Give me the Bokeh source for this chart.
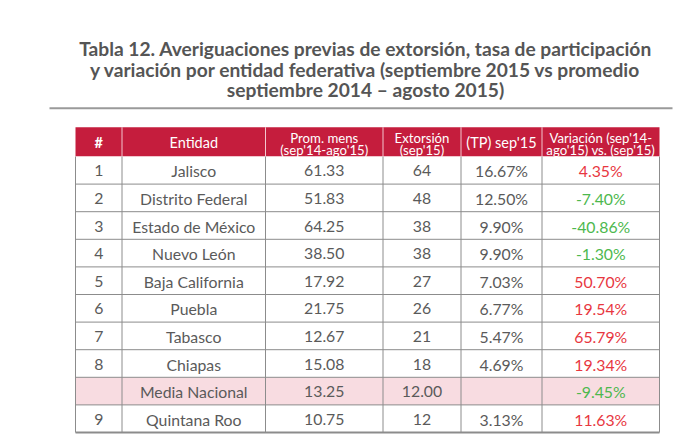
from bokeh.plotting import figure
from bokeh.models import Range1d, ColumnDataSource
from bokeh.core.properties import value
from bokeh.embed import file_html
from bokeh.resources import INLINE

# ---------------- data ----------------
title_lines = [
    "Tabla 12. Averiguaciones previas de extorsión, tasa de participación",
    "y variación por entidad federativa (septiembre 2015 vs promedio",
    "septiembre 2014 – agosto 2015)",
]
headers = [
    ["#"],
    ["Entidad"],
    ["Prom. mens", "(sep'14-ago'15)"],
    ["Extorsión", "(sep'15)"],
    ["(TP) sep'15"],
    ["Variación (sep'14-", "ago'15) vs. (sep'15)"],
]
nums = ["1", "2", "3", "4", "5", "6", "7", "8", "", "9"]
entidades = ["Jalisco", "Distrito Federal", "Estado de México", "Nuevo León",
             "Baja California", "Puebla", "Tabasco", "Chiapas",
             "Media Nacional", "Quintana Roo"]
prom = [61.33, 51.83, 64.25, 38.50, 17.92, 21.75, 12.67, 15.08, 13.25, 10.75]
extorsion = [64, 48, 38, 38, 27, 26, 21, 18, 12.00, 12]
tp = [16.67, 12.50, 9.90, 9.90, 7.03, 6.77, 5.47, 4.69, None, 3.13]
variacion = [4.35, -7.40, -40.86, -1.30, 50.70, 19.54, 65.79, 19.34, -9.45, 11.63]
media_row = "Media Nacional"

# ---------------- style / layout ----------------
FONT = value("Lato")
GRAY_TXT = "#5a5a5a"
HEAD_FILL = "#C51D3D"
PINK = "#F8DCE1"
BORDER = "#8c8c8c"
RED = "#E8373F"
GREEN = "#4DB84E"

col_edges = [75, 121.5, 265, 382.5, 460.5, 541.5, 659]
head_top, head_bot = 126.7, 156.0
row_h = 27.6

p = figure(width=700, height=434, output_backend="svg", toolbar_location=None,
           x_range=Range1d(0, 700), y_range=Range1d(434, 0),
           x_axis_location=None, y_axis_location=None, min_border=0,
           outline_line_color=None, background_fill_color="white",
           border_fill_color="white")
p.xgrid.visible = False
p.ygrid.visible = False

# title
title_y = [48, 68.5, 89]
p.text(x=[365] * 3, y=title_y, text=title_lines, text_align="center",
       text_baseline="alphabetic", text_font=FONT, text_font_style="bold",
       text_font_size="19.2px", text_color="#555555")
# rule
p.segment(x0=[49], y0=[107.7], x1=[672], y1=[107.7], line_color="#9a9a9a", line_width=2)

n = len(entidades)
centers = [(col_edges[i] + col_edges[i + 1]) / 2 for i in range(len(col_edges) - 1)]

# header background
p.quad(left=[col_edges[0]], right=[col_edges[-1]], top=[head_top], bottom=[head_bot],
       fill_color=HEAD_FILL, line_color=None)
# header dividers (light)
p.segment(x0=col_edges[1:-1], y0=[head_top] * 5, x1=col_edges[1:-1], y1=[head_bot] * 5,
          line_color="#f3c7cf", line_width=1)

# rows background
tops = [head_bot + i * row_h for i in range(n)]
bots = [t + row_h for t in tops]
fills = [PINK if e == media_row else "white" for e in entidades]
p.quad(left=[col_edges[0]] * n, right=[col_edges[-1]] * n, top=tops, bottom=bots,
       fill_color=fills, line_color=None)

# horizontal row lines
ys = bots[:-1]
p.segment(x0=[col_edges[0]] * len(ys), y0=ys, x1=[col_edges[-1]] * len(ys), y1=ys,
          line_color=BORDER, line_width=1)
p.segment(x0=[col_edges[0]], y0=[bots[-1]], x1=[col_edges[-1]], y1=[bots[-1]],
          line_color=BORDER, line_width=2.2)
# vertical lines in body
p.segment(x0=col_edges, y0=[head_bot] * len(col_edges), x1=col_edges,
          y1=[bots[-1]] * len(col_edges), line_color=BORDER, line_width=1)

# header texts
for i, lines in enumerate(headers):
    if len(lines) == 1:
        ys_h = [(head_top + head_bot) / 2 + 0.5]
    else:
        ys_h = [137.2, 149.6]
    p.text(x=[centers[i]] * len(lines), y=ys_h, text=lines, text_align="center",
           text_baseline="middle", text_font=FONT,
           text_font_style="bold" if lines == ["#"] else "normal",
           text_font_size="13.2px" if len(lines) > 1 else "14.5px",
           text_color="white", text_line_height=1.0)

# body texts
row_c = [t + row_h / 2 + 0.5 for t in tops]
def fmt_ext(v, e):
    return f"{v:.2f}" if e == media_row else f"{v:.0f}"

cols_txt = [
    nums,
    entidades,
    [f"{v:.2f}" for v in prom],
    [fmt_ext(v, e) for v, e in zip(extorsion, entidades)],
    ["" if v is None else f"{v:.2f}%" for v in tp],
]
for i, col in enumerate(cols_txt):
    p.text(x=[centers[i]] * n, y=row_c, text=col, text_align="center",
           text_baseline="middle", text_font=FONT, text_font_size="15.8px",
           text_color=GRAY_TXT)

src = ColumnDataSource(dict(
    x=[centers[5]] * n, y=row_c,
    t=[f"{v:.2f}%" for v in variacion],
    c=[RED if v > 0 else GREEN for v in variacion]))
p.text(x="x", y="y", text="t", source=src, text_align="center",
       text_baseline="middle", text_font=FONT, text_font_size="15.8px",
       text_color="c")

open("out.html", "w").write(file_html(p, INLINE))
